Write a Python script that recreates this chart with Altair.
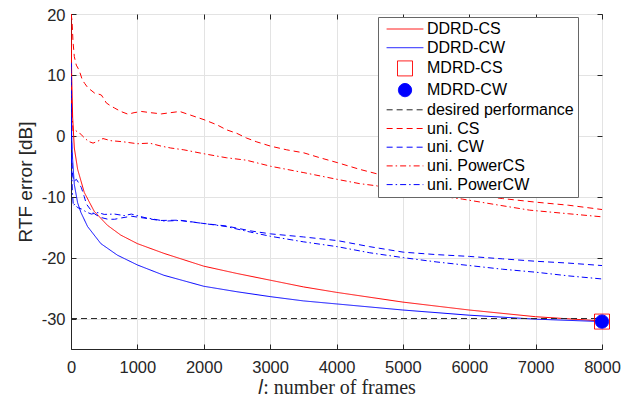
import altair as alt
import pandas as pd

series_order = ["DDRD-CS", "DDRD-CW", "MDRD-CS", "MDRD-CW", "desired performance",
                "uni. CS", "uni. CW", "uni. PowerCS", "uni. PowerCW"]
colors = ["#ff0000", "#0000ff", "#ff0000", "#0000ff", "#262626",
          "#ff0000", "#0000ff", "#ff0000", "#0000ff"]
dashes = [[1, 0], [1, 0], [1, 0], [1, 0], [6, 4], [6, 4], [6, 4], [6, 3, 1.5, 3], [6, 3, 1.5, 3]]
LINE = "M-2.45,0H2.45"
CIRCLE = "M0.88,0A0.88,0.88,0,1,1,-0.88,0A0.88,0.88,0,1,1,0.88,0Z"
shapes = [LINE, LINE, "square", CIRCLE, LINE, LINE, LINE, LINE, LINE]
fills = ["transparent", "transparent", "transparent", "#0000ff", "transparent",
         "transparent", "transparent", "transparent", "transparent"]

x_ticks = [0, 1000, 2000, 3000, 4000, 5000, 6000, 7000, 8000]
y_ticks = [-30, -20, -10, 0, 10, 20]

ddrd_cs_l = [0, 10, 25, 50, 100, 200, 350, 550, 750, 1000, 1400, 2000, 2500, 3000, 3500, 4000,
             5000, 6000, 7000, 8000]
ddrd_cs_v = [20, 10, 3, -2, -5.5, -9.3, -12.4, -14.7, -16.3, -17.7, -19.3, -21.4, -22.6, -23.7,
             -24.8, -25.7, -27.3, -28.6, -29.7, -30.4]

ddrd_cw_l = [0, 10, 25, 50, 100, 150, 250, 450, 700, 1000, 1400, 2000, 2500, 3000, 3500, 4000,
             5000, 6000, 7000, 8000]
ddrd_cw_v = [12, 0, -4, -8, -11, -12.6, -14.9, -17.7, -19.6, -21.2, -22.9, -24.7, -25.6, -26.4,
             -27.1, -27.6, -28.6, -29.45, -30.1, -30.5]

mdrd_l = [8000]
mdrd_cs_v = [-30.5]
mdrd_cw_v = [-30.5]

desired_l = [0, 8000]
desired_v = [-30, -30]

uni_cs_l = [0, 15, 30, 50, 80, 106, 131, 170, 206, 260, 300, 357, 400, 457, 500, 532, 600, 658,
            750, 859, 950, 1060, 1200, 1361, 1500, 1637, 1800, 2004, 2200, 2340, 2500, 2641, 2800,
            3008, 3250, 3509, 3750, 4012, 4348, 4700, 5000, 5500, 6004, 6500, 7009, 7500, 8000]
uni_cs_v = [20, 19, 15.5, 13, 11.6, 11.1, 10.5, 9.2, 8.6, 7.8, 7.5, 7.0, 6.9, 6.7, 6.0, 5.4, 4.9,
            4.55, 4.0, 3.55, 3.8, 4.0, 3.8, 3.6, 3.8, 4.0, 3.4, 2.65, 1.8, 1.0, 0.4, -0.35, -1.0,
            -1.7, -2.3, -2.8, -3.6, -4.4, -5.5, -6.5, -7.6, -8.6, -9.6, -10.3, -10.9, -11.4, -12.1]

uni_cw_l = [0, 5, 10, 20, 40, 81, 120, 156, 200, 232, 300, 357, 450, 557, 658, 750, 909, 1100,
            1336, 1637, 2003, 2340, 2700, 3008, 3500, 4012, 4500, 5005, 5500, 6004, 6500, 7009,
            7500, 8000]
uni_cw_v = [12, 4, -2, -6, -7.5, -7.15, -7.8, -8.5, -10, -11.2, -12.2, -12.85, -13.4, -13.7, -13.7,
            -13.5, -13.2, -13.5, -13.9, -13.85, -14.4, -14.8, -15.6, -16.1, -16.6, -17.2, -18.2,
            -19.1, -19.5, -19.8, -20.2, -20.6, -20.9, -21.3]

uni_pcs_l = [0, 10, 30, 56, 90, 131, 170, 206, 260, 332, 400, 482, 600, 708, 800, 1000, 1185,
             1361, 1502, 1700, 2004, 2340, 2641, 3008, 3509, 4012, 4348, 4600, 5000, 5500, 5903,
             6400, 6907, 7500, 8000]
uni_pcs_v = [15, 5, 0.8, 1.0, 0.7, 0.45, 0.0, -0.35, -0.9, -1.2, -0.9, -0.45, -0.8, -0.9, -1.0,
             -1.3, -1.2, -1.7, -2.0, -2.3, -2.95, -3.6, -4.0, -5.0, -6.05, -7.15, -7.85, -8.2,
             -9.2, -9.8, -10.4, -11.3, -12.2, -12.8, -13.3]

uni_pcw_l = [0, 5, 10, 20, 35, 56, 100, 156, 230, 307, 407, 500, 658, 800, 909, 1100, 1411, 1637,
             2003, 2340, 2700, 3008, 3500, 4012, 4500, 5005, 5500, 6004, 6500, 7009, 7500, 8000]
uni_pcw_v = [12, 2, -5, -9, -11.5, -11.2, -11.8, -12.0, -12.5, -12.85, -12.6, -12.9, -12.85, -13.1,
             -12.85, -13.4, -14.0, -13.9, -14.4, -14.9, -15.8, -16.5, -17.4, -18.2, -19.2, -20.0,
             -20.7, -21.3, -21.9, -22.4, -23.0, -23.5]

line_series = [
    ("DDRD-CS", ddrd_cs_l, ddrd_cs_v),
    ("DDRD-CW", ddrd_cw_l, ddrd_cw_v),
    ("desired performance", desired_l, desired_v),
    ("uni. CS", uni_cs_l, uni_cs_v),
    ("uni. CW", uni_cw_l, uni_cw_v),
    ("uni. PowerCS", uni_pcs_l, uni_pcs_v),
    ("uni. PowerCW", uni_pcw_l, uni_pcw_v),
]
rows = []
for name, ls, vs in line_series:
    for i, (l, v) in enumerate(zip(ls, vs)):
        rows.append({"series": name, "l": l, "v": v, "i": i})
lines_df = pd.DataFrame(rows)

points_df = pd.DataFrame({
    "series": ["MDRD-CS", "MDRD-CW"],
    "l": mdrd_l + mdrd_l,
    "v": mdrd_cs_v + mdrd_cw_v,
})

FONT = "Liberation Sans"
INWARD = alt.ExprRef(expr="-5")
legend = alt.Legend(title=None, orient="none", legendX=307, legendY=3,
                    symbolSize=225, symbolStrokeWidth=1, symbolOffset=15, labelOffset=14,
                    labelFontSize=16, labelFont=FONT, labelColor="#000000", labelLimit=400,
                    rowPadding=2.7, padding=4, strokeColor="#666666", fillColor="#ffffff",
                    cornerRadius=0)

color_enc = alt.Color("series:N", scale=alt.Scale(domain=series_order, range=colors), legend=legend)
dash_enc = alt.StrokeDash("series:N", scale=alt.Scale(domain=series_order, range=dashes), legend=legend)
shape_enc = alt.Shape("series:N", scale=alt.Scale(domain=series_order, range=shapes), legend=legend)
fill_enc = alt.Fill("series:N", scale=alt.Scale(domain=series_order, range=fills), legend=legend)

x_scale = alt.Scale(domain=[0, 8000], nice=False)
y_scale = alt.Scale(domain=[-35, 20], nice=False)

x_enc = alt.X("l:Q", scale=x_scale,
              axis=alt.Axis(values=x_ticks, title="𝑙: number of frames", format="d",
                            tickSize=INWARD, tickColor="#262626",
                            titleFont="Liberation Serif", titleFontSize=20, titleFontWeight="normal",
                            titlePadding=2, labelPadding=15))
y_enc = alt.Y("v:Q", scale=y_scale,
              axis=alt.Axis(values=y_ticks, title="RTF error [dB]",
                            labelExpr="replace(datum.label, '−', '-')",
                            tickSize=INWARD, tickColor="#262626", labelOffset=1,
                            titleFont=FONT, titleFontSize=19, titleFontWeight="normal",
                            titlePadding=6, labelPadding=11))

# mirrored axes (top / right) carrying only inward ticks
x_enc2 = alt.X("l:Q", scale=x_scale,
               axis=alt.Axis(values=x_ticks, title=None, labels=False, grid=False, domain=False,
                             tickSize=INWARD, tickColor="#262626"))
y_enc2 = alt.Y("v:Q", scale=y_scale,
               axis=alt.Axis(values=y_ticks, title=None, labels=False, grid=False, domain=False,
                             tickSize=INWARD, tickColor="#262626"))

lines = alt.Chart(lines_df).mark_line(strokeWidth=1, clip=True).encode(
    x=x_enc, y=y_enc, color=color_enc, strokeDash=dash_enc, order="i:Q", detail="series:N"
)
points = alt.Chart(points_df).mark_point(size=225, filled=False, strokeWidth=1, opacity=1).encode(
    x=x_enc2, y=y_enc2, color=color_enc, strokeDash=dash_enc, shape=shape_enc, fill=fill_enc
)

chart = alt.layer(lines, points).resolve_axis(x="independent", y="independent").properties(
    width=531, height=335,
    autosize=alt.AutoSizeParams(type="none"),
    padding={"left": 63, "top": 6, "right": 24, "bottom": 50},
).configure_view(stroke="#262626", strokeWidth=1).configure_axis(
    labelFont=FONT, labelFontSize=16.5, labelColor="#262626", titleColor="#262626",
    domainColor="#262626", gridColor="#e3e3e3", grid=True, labelFlush=False
)

chart.save("out.html", embed_options={"renderer": "svg", "actions": False})
